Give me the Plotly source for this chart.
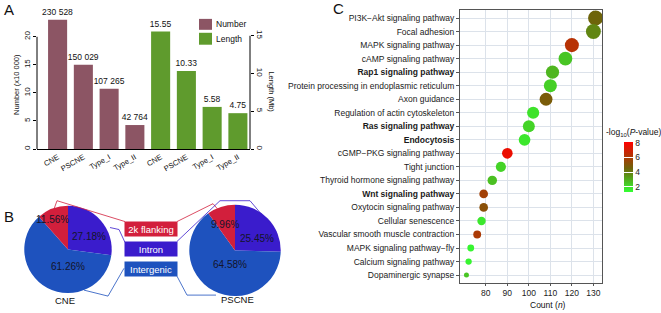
import math
import plotly.graph_objects as go

W, H = 661, 313
FONT = "Arial, Liberation Sans, sans-serif"

# ---------------- Panel A data ----------------
groups = ["CNE", "PSCNE", "Type_I", "Type_II"]
number_counts = [230528, 150029, 107265, 42764]
length_mb = [15.55, 10.33, 5.58, 4.75]

# ---------------- Panel B data ----------------
regions = ["Intron", "Intergenic", "2k flanking"]
cne_pct = [27.18, 61.26, 11.56]
pscne_pct = [25.45, 64.58, 9.96]

# ---------------- Panel C data ----------------
terms = [
    "PI3K\u2212Akt signaling pathway", "Focal adhesion", "MAPK signaling pathway",
    "cAMP signaling pathway", "Rap1 signaling pathway",
    "Protein processing in endoplasmic reticulum", "Axon guidance",
    "Regulation of actin cytoskeleton", "Ras signaling pathway", "Endocytosis",
    "cGMP\u2212PKG signaling pathway", "Tight junction",
    "Thyroid hormone signaling pathway", "Wnt signaling pathway",
    "Oxytocin signaling pathway", "Cellular senescence",
    "Vascular smooth muscle contraction", "MAPK signaling pathway\u2212fly",
    "Calcium signaling pathway", "Dopaminergic synapse",
]
counts = [131, 130, 120, 117, 111, 110, 108, 102, 100, 98, 90, 87, 83, 79, 79, 78, 76, 73, 72, 71]
neglogp = [4.5, 3.8, 6.3, 2.5, 2.8, 2.3, 4.8, 1.9, 2.2, 1.8, 7.6, 2.2, 2.6, 5.8, 5.2, 1.8, 6.0, 1.5, 1.5, 2.5]
bold_terms = ["Rap1 signaling pathway", "Ras signaling pathway", "Endocytosis", "Wnt signaling pathway"]

NUM_COLOR = "#8C5564"
LEN_COLOR = "#5F9B2D"
REGION_COLORS = {"Intron": "#3A1CCC", "Intergenic": "#1E52BE", "2k flanking": "#D21F3C"}


def px(x):
    return x / W


def py(y):
    return 1 - y / H


fig = go.Figure()

# ---- Panel A bars ----
fig.add_trace(go.Bar(
    x=list(range(len(groups))), y=[c / 10000 for c in number_counts],
    text=[f"{c:,}".replace(",", " ") for c in number_counts],
    textposition="outside", cliponaxis=False, constraintext="none", width=0.74,
    marker=dict(color=NUM_COLOR, line=dict(width=0)),
    textfont=dict(size=8.5, color="#111"), name="Number",
    xaxis="x", yaxis="y", showlegend=False,
))
fig.add_trace(go.Bar(
    x=list(range(len(groups), 2 * len(groups))), y=length_mb,
    text=[f"{v:.2f}" for v in length_mb],
    textposition="outside", cliponaxis=False, constraintext="none", width=0.74,
    marker=dict(color=LEN_COLOR, line=dict(width=0)),
    textfont=dict(size=8.5, color="#111"), name="Length",
    xaxis="x", yaxis="y2", showlegend=False,
))

# ---- Panel B pies ----
for vals, dom in [(cne_pct, dict(x=[px(24), px(112)], y=[py(295), py(207)])),
                  (pscne_pct, dict(x=[px(189), px(281)], y=[py(298), py(206)]))]:
    fig.add_trace(go.Pie(
        values=vals, labels=regions, sort=False, direction="clockwise", rotation=0,
        marker=dict(colors=[REGION_COLORS[r] for r in regions], line=dict(width=0)),
        textinfo="none", showlegend=False, domain=dom, hoverinfo="label+value",
    ))

# ---- Panel C bubbles ----
cmin_c, cmax_c = min(counts), max(counts)
dmin, dmax = 5, 15
sizes = [dmin + (dmax - dmin) * math.sqrt((c - cmin_c) / (cmax_c - cmin_c)) for c in counts]
fig.add_trace(go.Scatter(
    x=counts, y=terms, mode="markers", xaxis="x2", yaxis="y3", showlegend=False,
    marker=dict(
        size=sizes, color=neglogp, cmin=1.3, cmax=8.1, opacity=1,
        colorscale=[[0, "#33FF33"], [0.47, "#6E640A"], [1, "#FF0000"]],
        line=dict(width=0),
        colorbar=dict(
            x=px(624), xanchor="left", y=py(168), yanchor="middle",
            len=50, lenmode="pixels", thickness=9, thicknessmode="pixels",
            outlinewidth=0, tickvals=[2, 4, 6, 8], ticks="inside", tickcolor="white",
            ticklen=9, tickfont=dict(size=8.5, color="#222", family=FONT),
            xpad=0, ypad=0,
        ),
    ),
))

ticktext_c = [f"<b>{t}</b>" if t in bold_terms else t for t in terms]

shapes = []
# Panel A axis lines limited to the tick span
shapes.append(dict(type="line", xref="paper", yref="y", x0=px(37), x1=px(37), y0=0, y1=20,
                   line=dict(color="black", width=1)))
shapes.append(dict(type="line", xref="paper", yref="y2", x0=px(250), x1=px(250), y0=0, y1=15,
                   line=dict(color="black", width=1)))
# Panel A legend swatches
shapes.append(dict(type="rect", xref="paper", yref="paper", x0=px(199), x1=px(212), y0=py(30), y1=py(19),
                   fillcolor=NUM_COLOR, line=dict(width=0)))
shapes.append(dict(type="rect", xref="paper", yref="paper", x0=px(199), x1=px(212), y0=py(45), y1=py(33),
                   fillcolor=LEN_COLOR, line=dict(width=0)))


def path(points):
    return "M " + " L ".join(f"{px(x)},{py(y)}" for x, y in points)


connector_lines = [
    ([(52, 216), (57, 202), (125, 223)], REGION_COLORS["2k flanking"]),
    ([(110, 229), (119, 231), (125, 244)], REGION_COLORS["Intron"]),
    ([(84, 292), (108, 298), (124, 270)], REGION_COLORS["Intergenic"]),
    ([(177, 223), (213, 205), (219, 212)], REGION_COLORS["2k flanking"]),
    ([(177, 243), (220, 202), (250, 202), (276, 233)], REGION_COLORS["Intron"]),
    ([(177, 278), (187, 297), (216, 297)], REGION_COLORS["Intergenic"]),
]
for pts, col in connector_lines:
    shapes.append(dict(type="path", xref="paper", yref="paper", path=path(pts),
                       line=dict(color=col, width=0.8)))

ann = []


def text(x, y, s, size=9, color="#111", xanchor="center", angle=0, **kw):
    ann.append(dict(x=px(x), y=py(y), xref="paper", yref="paper", text=s, showarrow=False,
                    xanchor=xanchor, yanchor="middle", textangle=angle,
                    font=dict(size=size, color=color, family=FONT), **kw))


text(2, 10, "A", size=15, xanchor="left")
text(2, 218, "B", size=15, xanchor="left")
text(331, 9, "C", size=15, xanchor="left")
text(16.5, 85, "Number (x10 000)", size=7.5, angle=-90)
text(272, 92, "Length (Mb)", size=7.5, angle=90)
text(214, 24.5, "Number", size=8.5, xanchor="left")
text(214, 39, "Length", size=8.5, xanchor="left")

# pie percentages
pie_label_pos = {
    "CNE": [(89, 238), (68, 268), (52, 221)],
    "PSCNE": [(257, 240), (230, 266), (225, 226)],
}
for vals, key in [(cne_pct, "CNE"), (pscne_pct, "PSCNE")]:
    for v, (x, y) in zip(vals, pie_label_pos[key]):
        text(x, y, f"{v:.2f}%", size=10, color="#14142a")
text(65, 302, "CNE", size=9.5)
text(237, 301, "PSCNE", size=9.5)

# middle region legend boxes
box_y = {"2k flanking": 230, "Intron": 251, "Intergenic": 271}
for r in ["2k flanking", "Intron", "Intergenic"]:
    ann.append(dict(x=px(151), y=py(box_y[r]), xref="paper", yref="paper", text=r, showarrow=False,
                    xanchor="center", yanchor="middle", width=52, height=14, borderpad=0,
                    bgcolor=REGION_COLORS[r], font=dict(size=9.5, color="white", family=FONT)))

text(633, 133, "-log<sub>10</sub>(<i>P</i>-value)", size=8.5)
text(548, 306.5, "Count (<i>n</i>)", size=8.5)

fig.update_layout(
    width=W, height=H, margin=dict(l=0, r=0, t=0, b=0),
    paper_bgcolor="white", plot_bgcolor="white",
    font=dict(family=FONT, color="#111"),
    barmode="overlay",
    shapes=shapes, annotations=ann,
    xaxis=dict(domain=[px(37), px(250)], anchor="y", range=[-0.8, 7.47],
               tickvals=list(range(2 * len(groups))), ticktext=groups + groups,
               tickangle=-30, tickfont=dict(size=7.5, color="#111"),
               showline=True, linecolor="black", linewidth=1, ticks="",
               showgrid=False, zeroline=False, fixedrange=True),
    yaxis=dict(domain=[py(150), py(10)], anchor="x", range=[0, 140 / 5.65],
               tickvals=[0, 5, 10, 15, 20], tickangle=-90, tickfont=dict(size=8, color="#111"),
               ticks="outside", ticklen=3, tickcolor="black", showline=False,
               showgrid=False, zeroline=False),
    yaxis2=dict(overlaying="y", side="right", anchor="x", range=[0, 140 / 7.6],
                tickvals=[0, 5, 10, 15], tickangle=90, tickfont=dict(size=8, color="#111"),
                ticks="outside", ticklen=3, tickcolor="black", showline=False,
                showgrid=False, zeroline=False),
    xaxis2=dict(domain=[px(460), px(602)], anchor="y3", range=[68, 134],
                tickvals=[80, 90, 100, 110, 120, 130], tickfont=dict(size=8.5, color="#222"),
                showgrid=True, gridcolor="#DCE2EA", gridwidth=0.8,
                showline=True, mirror=True, linecolor="#555", linewidth=1,
                ticks="outside", ticklen=2, tickcolor="#555", zeroline=False),
    yaxis3=dict(domain=[py(285), py(10)], anchor="x2", type="category",
                categoryorder="array", categoryarray=terms,
                range=[len(terms) - 0.4, -0.6],
                tickvals=terms, ticktext=ticktext_c, tickfont=dict(size=8.5, color="#1a1a1a"),
                showgrid=True, gridcolor="#DCE2EA", gridwidth=0.8,
                showline=True, mirror=True, linecolor="#555", linewidth=1,
                ticks="outside", ticklen=3, tickcolor="#555", zeroline=False),
)

fig.write_html("out.html", config={"displayModeBar": False},
               post_script="document.body.style.margin='0px';")
